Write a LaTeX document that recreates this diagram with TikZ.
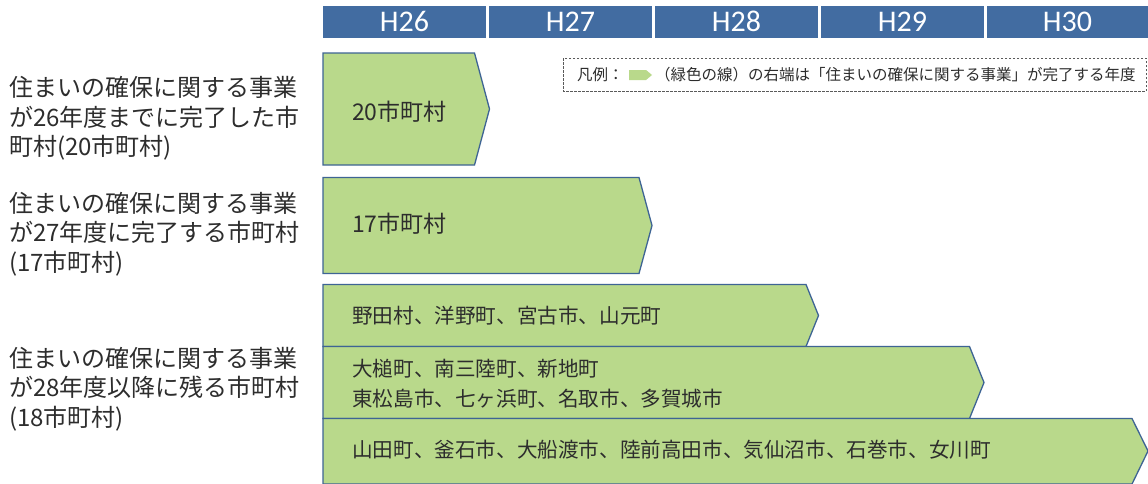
\documentclass[tikz,border=0pt]{standalone}
\usepackage{fontspec}
\newfontfamily\jp{Noto Sans CJK JP}
\newfontfamily\hdr{Carlito}
\definecolor{hdrblue}{RGB}{66,108,161}
\definecolor{fillgreen}{RGB}{185,217,139}
\definecolor{edgeblue}{RGB}{62,100,148}
\definecolor{txt}{RGB}{45,45,45}
\definecolor{dashgray}{RGB}{90,90,90}
\begin{document}
\begin{tikzpicture}[x=1pt,y=-1pt,
 yearbox/.style={fill=hdrblue, draw=none, text=white, font=\hdr\fontsize{30}{30}\selectfont, inner sep=0pt, minimum width=163pt, minimum height=31.7pt},
 bar/.style={fill=fillgreen, draw=edgeblue, line width=1.3pt, line join=miter},
 sidelabel/.style={anchor=west, align=left, text=txt, font=\jp\fontsize{24}{29.3}\selectfont, inner sep=0pt},
 biglabel/.style={anchor=west, text=txt, font=\jp\fontsize{23}{23}\selectfont, inner sep=0pt},
 listlabel/.style={anchor=west, align=left, text=txt, font=\jp\fontsize{20.6}{29.5}\selectfont, inner sep=0pt},
 legendtext/.style={anchor=west, text=txt, font=\jp\fontsize{15.5}{15.5}\selectfont, inner sep=0pt},
 legendbox/.style={draw=dashgray, line width=0.8pt, dash pattern=on 2.5pt off 1.5pt}]
\useasboundingbox (0,0) rectangle (1148,483);
\fill[white] (0,0) rectangle (1148,483);
% header
\node[yearbox] (h26) at (404.5,21.85) {H26};
\node[yearbox] (h27) at (570.5,21.85) {H27};
\node[yearbox] (h28) at (736.5,21.85) {H28};
\node[yearbox] (h29) at (902.5,21.85) {H29};
\node[yearbox, minimum width=161pt] (h30) at (1067.5,21.85) {H30};
% bars
\draw[bar] (323,53) -- (474.5,53) -- (489.5,109) -- (474.5,165) -- (323,165) -- cycle;
\draw[bar] (323,177.5) -- (639,177.5) -- (652,225.5) -- (639,273.5) -- (323,273.5) -- cycle;
\draw[bar] (323,284.5) -- (806,284.5) -- (818.5,315.5) -- (806,346.5) -- (323,346.5) -- cycle;
\draw[bar] (323,346.5) -- (969.5,346.5) -- (984,382.5) -- (969.5,418.5) -- (323,418.5) -- cycle;
\draw[bar] (323,418.5) -- (1132,418.5) -- (1148,451) -- (1132,484) -- (323,484) -- cycle;
% bar labels
\node[biglabel] (b1) at (352,112) {20市町村};
\node[biglabel] (b2) at (352,224) {17市町村};
\node[listlabel] (b3) at (352,315.5) {野田村、洋野町、宮古市、山元町};
\node[listlabel] (b4) at (352,383.5) {大槌町、南三陸町、新地町\\東松島市、七ヶ浜町、名取市、多賀城市};
\node[listlabel] (b5) at (352,450) {山田町、釜石市、大船渡市、陸前高田市、気仙沼市、石巻市、女川町};
% side labels
\node[sidelabel] (lab1) at (9,118.5) {住まいの確保に関する事業\\が26年度までに完了した市\\町村(20市町村)};
\node[sidelabel] (lab2) at (9,234) {住まいの確保に関する事業\\が27年度に完了する市町村\\(17市町村)};
\node[sidelabel] (lab3) at (9,389) {住まいの確保に関する事業\\が28年度以降に残る市町村\\(18市町村)};
% legend
\draw[legendbox] (563,58) rectangle (1146,91);
\node[legendtext] (legA) at (577,75) {凡例：};
\fill[fillgreen] (629,70) -- (646,70) -- (652,75) -- (646,80) -- (629,80) -- cycle;
\node[legendtext] (legB) at (655,75) {（緑色の線）の右端は「住まいの確保に関する事業」が完了する年度};
\end{tikzpicture}
\end{document}
